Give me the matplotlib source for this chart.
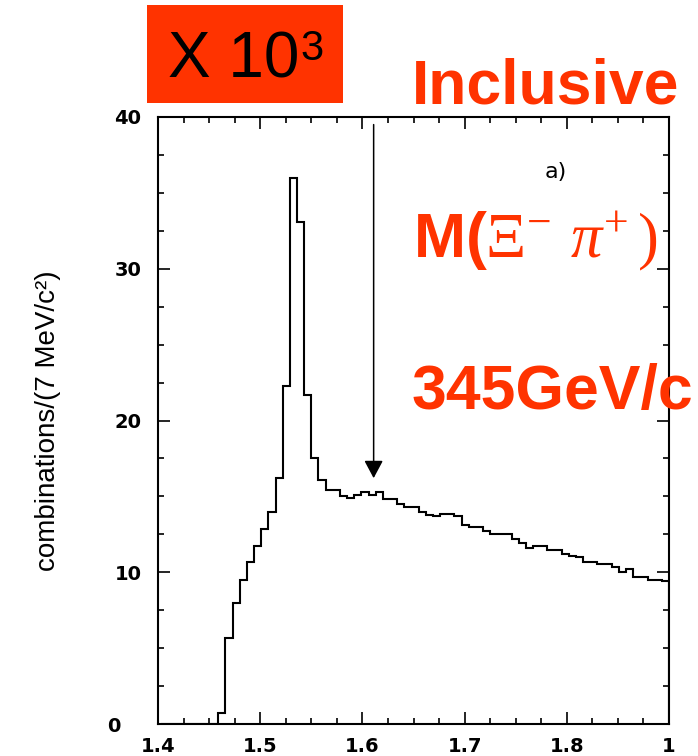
import matplotlib
matplotlib.use("Agg")
import matplotlib.pyplot as plt
import numpy as np
from matplotlib.patches import Rectangle
from matplotlib.ticker import MultipleLocator

# histogram of M(Xi- pi+), 7 MeV bins, counts in units of 10^3
bin_width = 0.007
first_edge = 1.403
counts = [0, 0, 0, 0, 0, 0, 0, 0, 0.7, 5.7,
          8.0, 9.5, 10.7, 11.7, 12.85, 14.0, 16.2, 22.3, 36.0, 33.1,
          21.7, 17.5, 16.1, 15.4, 15.4, 15.0, 14.9, 15.1, 15.3, 15.1,
          15.3, 14.8, 14.8, 14.5, 14.3, 14.3, 14.0, 13.8, 13.7, 13.85,
          13.85, 13.7, 13.1, 13.0, 13.0, 12.7, 12.5, 12.5, 12.5, 12.2,
          11.95, 11.6, 11.75, 11.75, 11.47, 11.47, 11.2, 11.1, 11.0, 10.7,
          10.7, 10.54, 10.54, 10.37, 10.04, 10.2, 9.7, 9.7, 9.5, 9.5,
          9.4]
edges = first_edge + bin_width * np.arange(len(counts) + 1)

xticks = [1.4, 1.5, 1.6, 1.7, 1.8, 1.9]
xticklabels = ["1.4", "1.5", "1.6", "1.7", "1.8", "1"]
yticks = [0, 10, 20, 30, 40]
yticklabels = ["0   ", "10", "20", "30", "40"]

# arrow marking the 1.6 GeV region
arrow_x = 1.611
arrow_from = 39.5
arrow_to = 16.2

red = "#ff3300"

plt.rcParams["mathtext.fontset"] = "custom"
plt.rcParams["mathtext.rm"] = "Liberation Serif"
plt.rcParams["mathtext.it"] = "Liberation Serif:italic"
plt.rcParams["mathtext.bf"] = "Liberation Serif:bold"

W, H = 698, 756
fig = plt.figure(figsize=(W / 100, H / 100), dpi=100)
ax = fig.add_axes([158 / W, 32 / H, 511 / W, 607 / H])

ax.stairs(counts, edges, color="black", lw=1.5)

ax.set_xlim(1.4, 1.9)
ax.set_ylim(0, 40)
ax.set_xticks(xticks)
ax.set_xticklabels(xticklabels, fontweight="bold", fontsize=14)
ax.set_yticks(yticks)
ax.set_yticklabels(yticklabels, fontweight="bold", fontsize=14)
ax.xaxis.set_minor_locator(MultipleLocator(0.025))
ax.yaxis.set_minor_locator(MultipleLocator(2.5))
ax.tick_params(which="both", direction="in", top=True, right=True, width=1.2)
ax.tick_params(which="major", length=8.5)
ax.tick_params(which="minor", length=4.5)
ax.tick_params(axis="y", pad=12)
ax.tick_params(axis="x", pad=9)
for sp in ax.spines.values():
    sp.set_linewidth(1.5)

ax.set_ylabel("combinations/(7 MeV/c²)", fontsize=20,
              family="Liberation Sans")
ax.yaxis.label.set_va("center")
ax.yaxis.set_label_coords(-0.215, 0.5)

ax.annotate("", xy=(arrow_x, arrow_to), xytext=(arrow_x, arrow_from),
            arrowprops=dict(arrowstyle="-|>,head_length=0.9,head_width=0.48",
                            mutation_scale=12, color="black", lw=1.1,
                            shrinkA=0, shrinkB=0))

ax.text(0.757, 0.9, "a)", transform=ax.transAxes, fontsize=16,
        va="baseline")

# "X 10^3" box
fig.add_artist(Rectangle((147 / W, 1 - 103 / H), 196 / W, 98 / H,
                         transform=fig.transFigure, color=red, lw=0))
fig.text(168 / W, 1 - 78 / H, "X 10", fontsize=46,
         family="Liberation Sans", va="baseline")
fig.text(300 / W, 1 - 60 / H, "3", fontsize=30,
         family="Liberation Sans", va="baseline")

txt_kw = dict(fontsize=45, fontweight="bold", color=red,
              family="Liberation Sans", va="baseline")
fig.text(412 / W, 1 - 104 / H, "Inclusive", **txt_kw)
fig.text(413 / W, 1 - 257 / H, r"M($\Xi^{-}$ $\pi^{+}\,)$", **txt_kw)
fig.text(412 / W, 1 - 409 / H, "345GeV/c", **txt_kw)

fig.savefig("out.png", dpi=100)
